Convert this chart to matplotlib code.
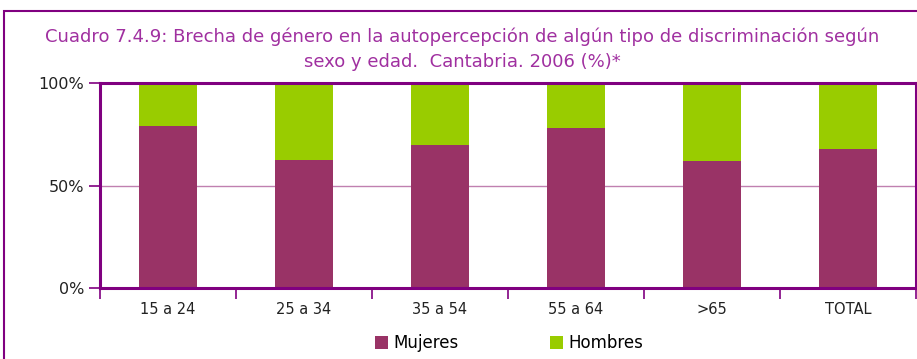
import matplotlib.pyplot as plt
from matplotlib.patches import Rectangle
from matplotlib.ticker import PercentFormatter

# Age groups and share of each sex (%)
grupos = ['15 a 24', '25 a 34', '35 a 54', '55 a 64', '>65', 'TOTAL']
mujeres = [79.2, 62.6, 69.9, 78.2, 62.1, 67.9]
hombres = [100 - m for m in mujeres]

morado = '#800080'
c_muj = '#993366'
c_hom = '#99cc00'

W, H = 917, 359
fig = plt.figure(figsize=(W / 100, H / 100), dpi=100)
plt.rcParams['font.family'] = ['DejaVu Sans']

# outer frame around the whole chart (runs off the right/bottom edges)
fig.patches.append(Rectangle((4 / W, -0.1), 1.1, 1 - 11 / H + 0.1,
                             transform=fig.transFigure, fill=False,
                             edgecolor=morado, linewidth=1.5))

fig.text(462 / W, 1 - 37 / H,
         'Cuadro 7.4.9: Brecha de género en la autopercepción de algún tipo de discriminación según',
         ha='center', va='center', fontsize=13, color='#a030a0')
fig.text(462 / W, 1 - 62 / H, 'sexo y edad.  Cantabria. 2006 (%)*',
         ha='center', va='center', fontsize=13, color='#a030a0')

ax = fig.add_axes([100 / W, (H - 288) / H, 816 / W, 205 / H])
x = range(len(grupos))
ax.bar(x, mujeres, width=0.43, color=c_muj, label='Mujeres', zorder=2)
ax.bar(x, hombres, width=0.43, bottom=mujeres, color=c_hom, label='Hombres', zorder=2)

ax.set_xlim(-0.5, len(grupos) - 0.5)
ax.set_ylim(0, 100)
ax.set_yticks([0, 50, 100])
ax.yaxis.set_major_formatter(PercentFormatter(decimals=0))
ax.set_xticks([i - 0.5 for i in range(len(grupos) + 1)], minor=False)
ax.set_xticklabels([])
ax.set_xticks(list(x), minor=True)
ax.set_xticklabels(grupos, minor=True)
ax.tick_params(axis='x', which='minor', length=0, pad=10, labelsize=10.5, labelcolor='#222222')
ax.tick_params(axis='x', which='major', length=8, width=1.2, color=morado)
ax.tick_params(axis='y', length=8, width=1.2, color=morado, labelsize=11.5, labelcolor='#222222')
ax.grid(axis='y', color='#c080b0', linewidth=1, zorder=1)
ax.set_axisbelow(True)
for s in ax.spines.values():
    s.set_color(morado)
    s.set_linewidth(2.2)
    s.set_zorder(3)

fig.legend(loc='center', bbox_to_anchor=(509 / W, 1 - 343 / H), ncol=2,
           frameon=False, fontsize=12, handlelength=0.8, handleheight=0.8,
           handletextpad=0.3, columnspacing=5.5)

fig.savefig('out.png', dpi=100)
